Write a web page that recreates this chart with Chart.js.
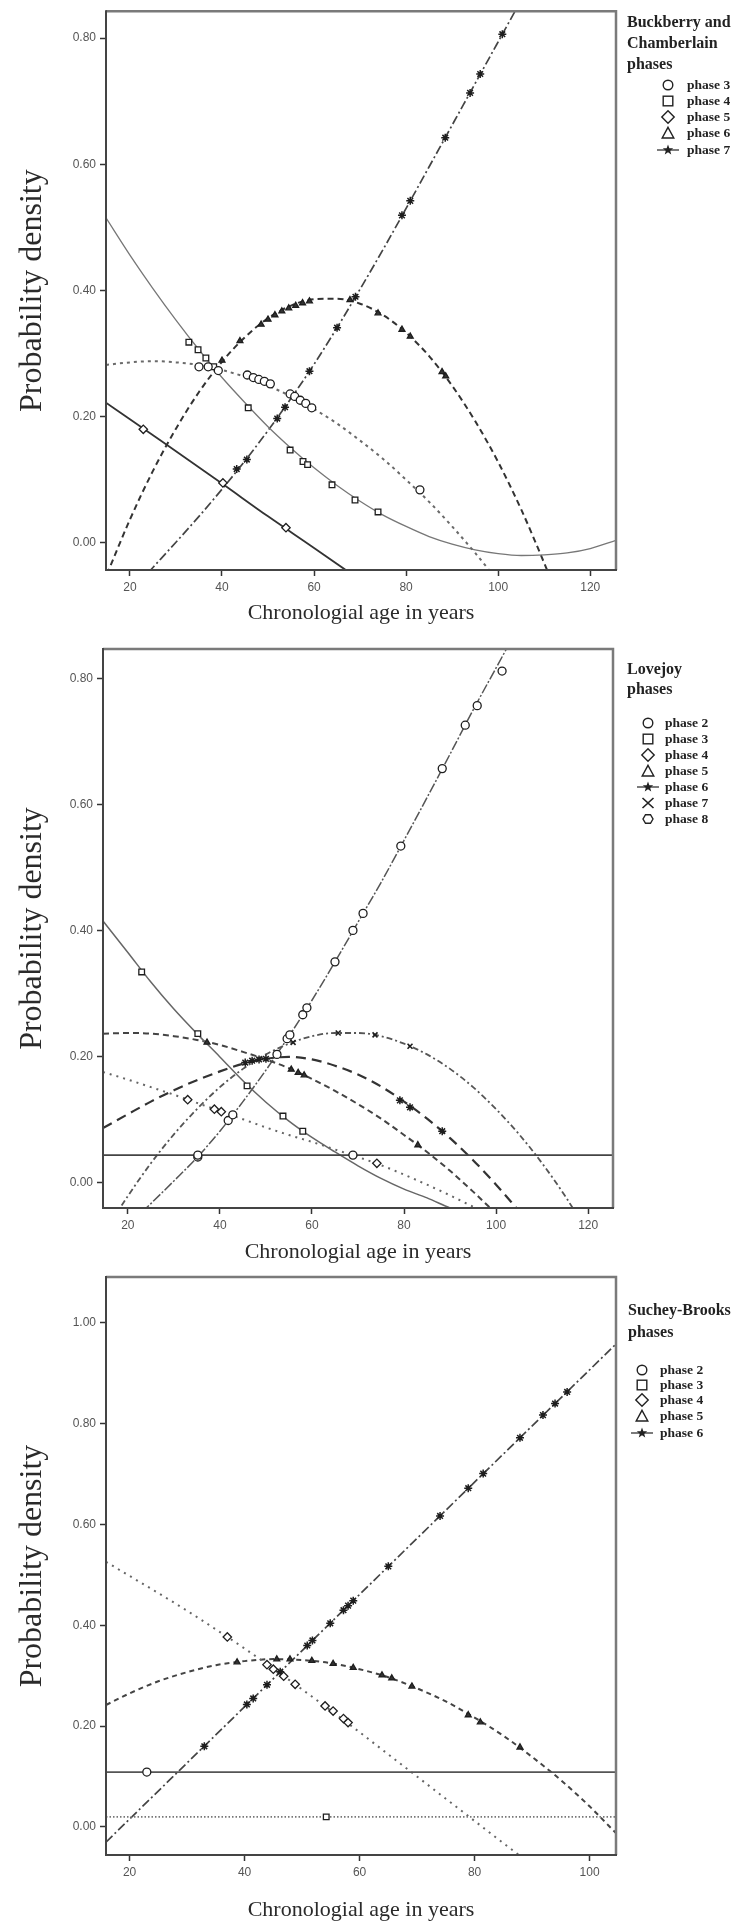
<!DOCTYPE html>
<html><head><meta charset="utf-8">
<script src="https://cdn.jsdelivr.net/npm/chart.js@4.4.1/dist/chart.umd.min.js"></script>
<style>
html,body{margin:0;padding:0;background:#fff;}
#page{position:relative;width:740px;height:1925px;overflow:hidden;background:#fff;}
canvas{position:absolute;left:0;}
.leg{position:absolute;font-family:"Liberation Serif","Times New Roman",serif;color:#222;white-space:nowrap;}
.lt{font-weight:bold;font-size:16px;line-height:21px;}
.le{font-weight:bold;font-size:13.5px;line-height:16px;}
.sym{position:absolute;width:28px;height:16px;}
</style></head><body><div id="page">
<canvas id="c1" width="740" height="640" style="top:0px;width:740px;height:640px"></canvas>
<canvas id="c2" width="740" height="640" style="top:630px;width:740px;height:640px"></canvas>
<canvas id="c3" width="740" height="670" style="top:1255px;width:740px;height:670px"></canvas>
</div>
<script>
// ---------- shared labels ----------
const xTitle = 'Chronologial age in years';
const yTitle = 'Probability density';

// ---------- Panel 1: Buckberry and Chamberlain ----------
const bcTicksX = [20, 40, 60, 80, 100, 120];
const bcTicksY = [0, 0.2, 0.4, 0.6, 0.8];
const bcLegendTitle = ['Buckberry and', 'Chamberlain', 'phases'];
const bcPhases = ['phase 3', 'phase 4', 'phase 5', 'phase 6', 'phase 7'];

const bcP3CurveX = [14.8, 20, 25, 30, 35, 40, 45, 50, 55, 60, 65, 70, 75, 80, 85, 90, 95, 100];
const bcP3CurveY = [0.282, 0.286, 0.288, 0.286, 0.282, 0.274, 0.263, 0.249, 0.232, 0.212, 0.189, 0.162, 0.133, 0.100, 0.065, 0.026, -0.016, -0.061];
const bcP3PtX = [35.0, 37.0, 39.2, 45.5, 46.8, 48.0, 49.2, 50.5, 54.8, 55.8, 57.0, 58.2, 59.5, 83.0];
const bcP3PtY = [0.279, 0.279, 0.273, 0.266, 0.262, 0.259, 0.256, 0.252, 0.236, 0.232, 0.226, 0.221, 0.214, 0.084];

const bcP4CurveX = [14.8, 20, 25, 30, 35, 40, 45, 50, 55, 60, 65, 70, 75, 80, 85, 90, 95, 100, 105, 110, 115, 120, 125.6];
const bcP4CurveY = [0.515, 0.456, 0.403, 0.353, 0.306, 0.262, 0.222, 0.184, 0.150, 0.119, 0.091, 0.066, 0.044, 0.026, 0.010, -0.002, -0.011, -0.017, -0.020, -0.019, -0.016, -0.009, 0.004];
const bcP4PtX = [32.8, 34.8, 36.5, 38.2, 45.7, 54.8, 57.6, 58.6, 63.9, 68.9, 73.9];
const bcP4PtY = [0.318, 0.306, 0.293, 0.279, 0.214, 0.147, 0.129, 0.124, 0.092, 0.068, 0.049];

const bcP5CurveX = [14.8, 20, 30, 40, 50, 60, 70];
const bcP5CurveY = [0.222, 0.196, 0.145, 0.094, 0.042, -0.008, -0.059];
const bcP5PtX = [22.9, 40.2, 53.9];
const bcP5PtY = [0.180, 0.095, 0.024];

const bcP6CurveX = [15, 20, 25, 30, 35, 40, 45, 50, 55, 60, 65, 70, 75, 80, 85, 90, 95, 100, 105, 110, 112];
const bcP6CurveY = [-0.050, 0.037, 0.114, 0.181, 0.239, 0.287, 0.326, 0.356, 0.376, 0.386, 0.387, 0.379, 0.361, 0.333, 0.296, 0.249, 0.193, 0.128, 0.053, -0.032, -0.068];
const bcP6PtX = [40.0, 43.9, 48.5, 50.0, 51.5, 53.0, 54.5, 56.0, 57.5, 59.0, 67.8, 73.9, 79.1, 80.9, 87.8, 88.6];
const bcP6PtY = [0.289, 0.320, 0.346, 0.354, 0.361, 0.367, 0.372, 0.376, 0.380, 0.383, 0.385, 0.364, 0.338, 0.327, 0.271, 0.264];

const bcP7CurveX = [24, 25, 30, 35, 40, 45, 50, 55, 60, 65, 70, 75, 80, 85, 90, 95, 100, 105];
const bcP7CurveY = [-0.047, -0.039, 0.001, 0.042, 0.085, 0.130, 0.178, 0.229, 0.283, 0.341, 0.402, 0.465, 0.530, 0.596, 0.662, 0.728, 0.794, 0.860];
const bcP7PtX = [43.2, 45.4, 52.0, 53.7, 59.0, 65.0, 69.0, 79.1, 80.9, 88.5, 93.9, 96.1, 100.9];
const bcP7PtY = [0.117, 0.132, 0.197, 0.215, 0.272, 0.341, 0.390, 0.519, 0.542, 0.642, 0.713, 0.743, 0.806];

// ---------- Panel 2: Lovejoy ----------
const lvTicksX = [20, 40, 60, 80, 100, 120];
const lvTicksY = [0, 0.2, 0.4, 0.6, 0.8];
const lvLegendTitle = ['Lovejoy', 'phases'];
const lvPhases = ['phase 2', 'phase 3', 'phase 4', 'phase 5', 'phase 6', 'phase 7', 'phase 8'];

const lvP2CurveX = [14.6, 125.4];
const lvP2CurveY = [0.043, 0.043];
const lvP2PtX = [35.2, 68.9];
const lvP2PtY = [0.043, 0.043];

const lvP3CurveX = [14.6, 20, 25, 30, 35, 40, 45, 50, 55, 60, 65, 70, 75, 80, 85, 90, 95];
const lvP3CurveY = [0.415, 0.365, 0.318, 0.275, 0.236, 0.199, 0.161, 0.127, 0.097, 0.071, 0.048, 0.026, 0.006, -0.011, -0.025, -0.041, -0.055];
const lvP3PtX = [23.0, 35.2, 45.9, 53.7, 58.0];
const lvP3PtY = [0.334, 0.236, 0.153, 0.105, 0.081];

const lvP4CurveX = [14.6, 20, 25, 30, 35, 40, 45, 50, 55, 60, 65, 70, 75, 80, 85, 90, 95, 98];
const lvP4CurveY = [0.175, 0.163, 0.151, 0.139, 0.126, 0.113, 0.100, 0.087, 0.075, 0.064, 0.052, 0.040, 0.027, 0.012, -0.004, -0.021, -0.039, -0.050];
const lvP4PtX = [33.0, 38.8, 40.3, 74.1];
const lvP4PtY = [0.131, 0.116, 0.112, 0.030];

const lvP5CurveX = [14.6, 20, 25, 30, 35, 40, 45, 50, 55, 60, 65, 70, 75, 80, 85, 90, 95, 100];
const lvP5CurveY = [0.236, 0.237, 0.236, 0.232, 0.226, 0.218, 0.207, 0.195, 0.181, 0.164, 0.145, 0.124, 0.101, 0.075, 0.048, 0.018, -0.015, -0.050];
const lvP5PtX = [37.2, 55.5, 57.0, 58.3, 83.0];
const lvP5PtY = [0.222, 0.179, 0.174, 0.170, 0.059];

const lvP6CurveX = [14.6, 20, 25, 30, 35, 40, 45, 50, 55, 60, 65, 70, 75, 80, 85, 90, 95, 100, 105];
const lvP6CurveY = [0.086, 0.108, 0.128, 0.146, 0.162, 0.176, 0.188, 0.196, 0.199, 0.195, 0.185, 0.171, 0.152, 0.128, 0.101, 0.070, 0.035, -0.004, -0.046];
const lvP6PtX = [45.5, 47.0, 48.5, 50.0, 79.1, 81.3, 88.3];
const lvP6PtY = [0.190, 0.193, 0.195, 0.196, 0.130, 0.119, 0.081];

const lvP7CurveX = [17, 20, 25, 30, 35, 40, 45, 50, 55, 60, 65, 70, 75, 80, 85, 90, 95, 100, 105, 110, 115, 118];
const lvP7CurveY = [-0.056, -0.022, 0.030, 0.076, 0.116, 0.151, 0.180, 0.203, 0.220, 0.232, 0.237, 0.237, 0.232, 0.220, 0.203, 0.180, 0.151, 0.116, 0.076, 0.030, -0.022, -0.057];
const lvP7PtX = [55.9, 65.7, 73.7, 81.3];
const lvP7PtY = [0.222, 0.237, 0.234, 0.216];

const lvP8CurveX = [23, 25, 30, 35, 40, 45, 50, 55, 60, 65, 70, 75, 80, 85, 90, 95, 100, 105];
const lvP8CurveY = [-0.048, -0.034, 0.002, 0.039, 0.081, 0.128, 0.178, 0.232, 0.289, 0.350, 0.413, 0.476, 0.543, 0.611, 0.680, 0.750, 0.817, 0.884];
const lvP8PtX = [35.2, 41.8, 42.8, 52.4, 54.6, 55.2, 58.0, 58.9, 65.0, 68.9, 71.1, 79.3, 88.3, 93.3, 95.9, 101.3];
const lvP8PtY = [0.040, 0.098, 0.107, 0.203, 0.228, 0.234, 0.266, 0.277, 0.350, 0.400, 0.427, 0.534, 0.657, 0.726, 0.757, 0.812];

// ---------- Panel 3: Suchey-Brooks ----------
const sbTicksX = [20, 40, 60, 80, 100];
const sbTicksY = [0, 0.2, 0.4, 0.6, 0.8, 1.0];
const sbLegendTitle = ['Suchey-Brooks', 'phases'];
const sbPhases = ['phase 2', 'phase 3', 'phase 4', 'phase 5', 'phase 6'];

const sbP2CurveX = [15.9, 104.6];
const sbP2CurveY = [0.109, 0.109];
const sbP2PtX = [23.0];
const sbP2PtY = [0.109];

const sbP3CurveX = [15.9, 104.6];
const sbP3CurveY = [0.020, 0.020];
const sbP3PtX = [54.2];
const sbP3PtY = [0.020];

const sbP4CurveX = [15.9, 20, 25, 30, 35, 40, 45, 50, 55, 60, 65, 70, 75, 80, 85, 88];
const sbP4CurveY = [0.526, 0.498, 0.464, 0.429, 0.392, 0.354, 0.314, 0.273, 0.231, 0.188, 0.144, 0.100, 0.056, 0.012, -0.032, -0.058];
const sbP4PtX = [37.0, 43.9, 45.0, 46.8, 48.8, 54.0, 55.4, 57.2, 58.0];
const sbP4PtY = [0.377, 0.322, 0.313, 0.299, 0.283, 0.240, 0.230, 0.215, 0.207];

const sbP5CurveX = [15.9, 20, 25, 30, 35, 40, 45, 50, 55, 60, 65, 70, 75, 80, 85, 90, 95, 100, 105];
const sbP5CurveY = [0.242, 0.265, 0.289, 0.307, 0.321, 0.329, 0.333, 0.331, 0.325, 0.313, 0.297, 0.275, 0.249, 0.217, 0.181, 0.139, 0.093, 0.041, -0.017];
const sbP5PtX = [38.7, 45.6, 47.9, 51.7, 55.4, 58.9, 63.9, 65.6, 69.1, 78.9, 81.0, 87.9];
const sbP5PtY = [0.327, 0.333, 0.333, 0.330, 0.324, 0.316, 0.301, 0.295, 0.279, 0.222, 0.208, 0.158];

const sbP6CurveX = [15.9, 104.6];
const sbP6CurveY = [-0.030, 0.958];
const sbP6PtX = [33.0, 40.4, 41.5, 43.9, 46.2, 50.9, 51.8, 54.9, 57.2, 58.0, 58.9, 65.0, 74.0, 78.9, 81.5, 87.9, 91.9, 94.0, 96.1];
const sbP6PtY = [0.160, 0.243, 0.255, 0.282, 0.308, 0.360, 0.370, 0.404, 0.430, 0.439, 0.449, 0.517, 0.617, 0.672, 0.701, 0.772, 0.817, 0.840, 0.863];

// ---------- helpers ----------
function pairs(xs, ys) { return xs.map((x, i) => ({ x: x, y: ys[i] })); }
function curve(xs, ys, dash, width, color) {
  return { data: pairs(xs, ys), showLine: true, pointRadius: 0, pointHoverRadius: 0,
    borderColor: color, borderWidth: width, borderDash: dash, cubicInterpolationMode: 'monotone',
    fill: false, order: 2 };
}
function marks(xs, ys, style, r, fill, bw) {
  return { data: pairs(xs, ys), showLine: false, pointStyle: style, pointRadius: r,
    pointBackgroundColor: fill, pointBorderColor: '#1e1e1e', pointBorderWidth: bw || 1.3, order: 1 };
}
const framePlugin = {
  id: 'frame',
  afterDraw(chart) {
    const { ctx, chartArea: a } = chart;
    ctx.save();
    ctx.lineWidth = 2.5;
    ctx.strokeStyle = '#7a7a7a';
    ctx.beginPath();
    ctx.moveTo(a.left, a.top); ctx.lineTo(a.right, a.top); ctx.lineTo(a.right, a.bottom);
    ctx.stroke();
    ctx.lineWidth = 2;
    ctx.strokeStyle = '#444';
    ctx.beginPath();
    ctx.moveTo(a.left, a.top - 1); ctx.lineTo(a.left, a.bottom); ctx.lineTo(a.right + 1, a.bottom);
    ctx.stroke();
    ctx.restore();
  }
};
function makePanel(id, cfg) {
  return new Chart(document.getElementById(id), {
    type: 'scatter',
    data: { datasets: cfg.datasets },
    options: {
      responsive: false, animation: false, devicePixelRatio: 1,
      layout: { padding: { left: 0, right: 740 - cfg.right, top: cfg.top, bottom: 0 } },
      plugins: { legend: { display: false }, tooltip: { enabled: false } },
      scales: {
        x: {
          type: 'linear', min: cfg.xmin, max: cfg.xmax,
          afterBuildTicks: s => { s.ticks = cfg.ticksX.map(v => ({ value: v })); },
          afterFit: s => { s.height = cfg.H - cfg.bottom; },
          grid: { drawOnChartArea: false, drawTicks: true, tickLength: 6, tickColor: '#333', tickWidth: 1.5 },
          border: { display: false },
          ticks: { autoSkip: false, maxRotation: 0, padding: 4, color: '#555',
            font: { family: 'Liberation Sans', size: 12 }, callback: v => String(v) },
          title: { display: true, text: xTitle, color: '#2a2a2a',
            font: { family: 'Liberation Serif', size: 22 }, padding: { top: 0, bottom: cfg.xtPad } }
        },
        y: {
          type: 'linear', min: cfg.ymin, max: cfg.ymax,
          afterBuildTicks: s => { s.ticks = cfg.ticksY.map(v => ({ value: v })); },
          afterFit: s => { s.width = cfg.left; },
          grid: { drawOnChartArea: false, drawTicks: true, tickLength: 6, tickColor: '#333', tickWidth: 1.5 },
          border: { display: false },
          ticks: { autoSkip: false, padding: 4, color: '#555',
            font: { family: 'Liberation Sans', size: 12 }, callback: v => Number(v).toFixed(2) },
          title: { display: true, text: yTitle, color: '#2a2a2a',
            font: { family: 'Liberation Serif', size: 32 }, padding: { top: 13, bottom: 0 } }
        }
      }
    },
    plugins: [framePlugin]
  });
}

// ---------- Panel 1 ----------
makePanel('c1', {
  H: 640, top: 11, bottom: 570, left: 106, right: 616, xtPad: 14,
  xmin: 14.8, xmax: 125.6, ymin: -0.043, ymax: 0.8425, ticksX: bcTicksX, ticksY: bcTicksY,
  datasets: [
    marks(bcP3PtX, bcP3PtY, 'circle', 4, '#fff'),
    marks(bcP4PtX, bcP4PtY, 'rect', 4, '#fff'),
    marks(bcP5PtX, bcP5PtY, 'rectRot', 4.2, '#fff'),
    marks(bcP6PtX, bcP6PtY, 'triangle', 3.4, '#333'),
    marks(bcP7PtX, bcP7PtY, 'star', 4, '#222', 1.5),
    curve(bcP3CurveX, bcP3CurveY, [3, 4], 2, '#6a6a6a'),
    curve(bcP4CurveX, bcP4CurveY, [], 1.3, '#777'),
    curve(bcP5CurveX, bcP5CurveY, [], 1.8, '#333'),
    curve(bcP6CurveX, bcP6CurveY, [6, 4], 2, '#333'),
    curve(bcP7CurveX, bcP7CurveY, [9, 3, 2, 3], 1.7, '#444')
  ]
});

// ---------- Panel 2 ----------
makePanel('c2', {
  H: 640, top: 19, bottom: 578, left: 103, right: 613, xtPad: 5,
  xmin: 14.6, xmax: 125.4, ymin: -0.041, ymax: 0.847, ticksX: lvTicksX, ticksY: lvTicksY,
  datasets: [
    marks(lvP2PtX, lvP2PtY, 'circle', 4, '#fff'),
    marks(lvP3PtX, lvP3PtY, 'rect', 4, '#fff'),
    marks(lvP4PtX, lvP4PtY, 'rectRot', 4.2, '#fff'),
    marks(lvP5PtX, lvP5PtY, 'triangle', 3.4, '#333'),
    marks(lvP6PtX, lvP6PtY, 'star', 4, '#222', 1.5),
    marks(lvP7PtX, lvP7PtY, 'crossRot', 3.5, '#222', 1.6),
    marks(lvP8PtX, lvP8PtY, 'circle', 4, '#fff'),
    curve(lvP2CurveX, lvP2CurveY, [], 1.6, '#444'),
    curve(lvP3CurveX, lvP3CurveY, [], 1.5, '#666'),
    curve(lvP4CurveX, lvP4CurveY, [2, 5], 2, '#666'),
    curve(lvP5CurveX, lvP5CurveY, [6, 4], 2, '#444'),
    curve(lvP6CurveX, lvP6CurveY, [10, 6], 2.2, '#333'),
    curve(lvP7CurveX, lvP7CurveY, [6, 3, 2, 3], 1.8, '#555'),
    curve(lvP8CurveX, lvP8CurveY, [10, 2, 2, 2], 1.5, '#555')
  ]
});

// ---------- Panel 3 ----------
makePanel('c3', {
  H: 670, top: 22, bottom: 600, left: 106, right: 616, xtPad: 2,
  xmin: 15.9, xmax: 104.6, ymin: -0.0556, ymax: 1.091, ticksX: sbTicksX, ticksY: sbTicksY,
  datasets: [
    marks(sbP2PtX, sbP2PtY, 'circle', 4, '#fff'),
    marks(sbP3PtX, sbP3PtY, 'rect', 4, '#fff'),
    marks(sbP4PtX, sbP4PtY, 'rectRot', 4.2, '#fff'),
    marks(sbP5PtX, sbP5PtY, 'triangle', 3.4, '#333'),
    marks(sbP6PtX, sbP6PtY, 'star', 4, '#222', 1.5),
    curve(sbP2CurveX, sbP2CurveY, [], 1.8, '#555'),
    curve(sbP3CurveX, sbP3CurveY, [1.5, 2], 1.8, '#777'),
    curve(sbP4CurveX, sbP4CurveY, [2, 5], 2, '#666'),
    curve(sbP5CurveX, sbP5CurveY, [5, 4], 2, '#444'),
    curve(sbP6CurveX, sbP6CurveY, [9, 3, 2, 3], 1.7, '#444')
  ]
});

// ---------- legends (HTML text + SVG symbols) ----------
function svgSym(kind) {
  const st = 'fill="#fff" stroke="#222" stroke-width="1.4"';
  let inner = '';
  if (kind === 'circle') inner = '<circle cx="14" cy="8" r="4.8" ' + st + '/>';
  else if (kind === 'rect') inner = '<rect x="9.2" y="3.2" width="9.6" height="9.6" ' + st + '/>';
  else if (kind === 'rectRot') inner = '<polygon points="14,1.8 20.2,8 14,14.2 7.8,8" ' + st + '/>';
  else if (kind === 'triangle') inner = '<polygon points="14,2.3 19.8,13 8.2,13" ' + st + '/>';
  else if (kind === 'star') inner = '<line x1="3" y1="8" x2="25" y2="8" stroke="#333" stroke-width="1.3"/>' +
    '<polygon points="14,2.5 15.35,6.14 19.23,6.3 16.19,8.71 17.23,12.45 14,10.3 10.77,12.45 11.81,8.71 8.77,6.3 12.65,6.14" fill="#222"/>';
  else if (kind === 'bowtie') inner = '<polyline points="8.5,3 14,8 8.5,13" fill="none" stroke="#222" stroke-width="1.6"/>' +
    '<polyline points="19.5,3 14,8 19.5,13" fill="none" stroke="#222" stroke-width="1.6"/>';
  else if (kind === 'hexagon') inner = '<polygon points="19,8 16.5,12.3 11.5,12.3 9,8 11.5,3.7 16.5,3.7" ' + st + '/>';
  return '<svg xmlns="http://www.w3.org/2000/svg" width="28" height="16" viewBox="0 0 28 16">' + inner + '</svg>';
}
function buildLegend(titleLines, phases, shapes, pos) {
  const page = document.getElementById('page');
  const t = document.createElement('div');
  t.className = 'leg lt';
  t.style.left = pos.x + 'px';
  t.style.top = pos.titleTop + 'px';
  t.style.lineHeight = pos.lh + 'px';
  t.innerHTML = titleLines.join('<br>');
  page.appendChild(t);
  phases.forEach((p, i) => {
    const y = pos.rows[i];
    const s = document.createElement('div');
    s.className = 'sym';
    s.style.left = (pos.sx - 14) + 'px';
    s.style.top = (y - 8) + 'px';
    s.innerHTML = svgSym(shapes[i]);
    page.appendChild(s);
    const e = document.createElement('div');
    e.className = 'leg le';
    e.style.left = pos.tx + 'px';
    e.style.top = (y - 8) + 'px';
    e.textContent = p;
    page.appendChild(e);
  });
}
buildLegend(bcLegendTitle, bcPhases, ['circle', 'rect', 'rectRot', 'triangle', 'star'],
  { x: 627, titleTop: 11, lh: 21, sx: 668, tx: 687, rows: [85, 101, 117, 133, 150] });
buildLegend(lvLegendTitle, lvPhases, ['circle', 'rect', 'rectRot', 'triangle', 'star', 'bowtie', 'hexagon'],
  { x: 627, titleTop: 659, lh: 20, sx: 648, tx: 665, rows: [723, 739, 755, 771, 787, 803, 819] });
buildLegend(sbLegendTitle, sbPhases, ['circle', 'rect', 'rectRot', 'triangle', 'star'],
  { x: 628, titleTop: 1299, lh: 22, sx: 642, tx: 660, rows: [1370, 1385, 1400, 1416, 1433] });
</script>
</body></html>
